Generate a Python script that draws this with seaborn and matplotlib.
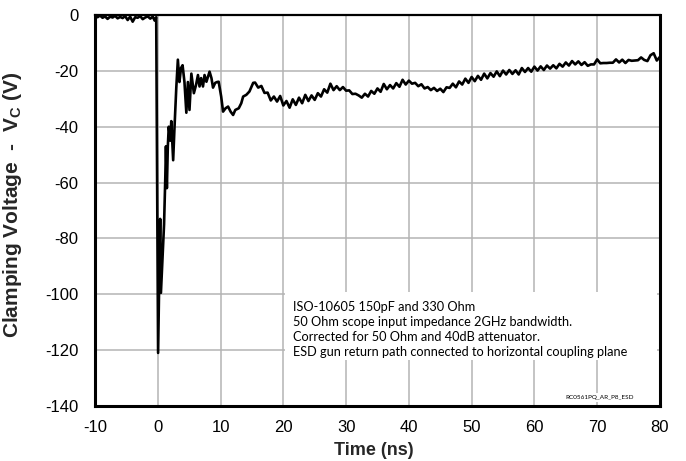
"""
ESD clamping voltage waveform (ISO-10605)
"""

import matplotlib
matplotlib.use("Agg")
import matplotlib.pyplot as plt
from matplotlib.patches import Rectangle
import seaborn as sns
import pandas as pd

# pre-trigger baseline
t_pre = [-10.0, -9.6, -9.2, -8.8, -8.4, -8.0, -7.6, -7.2, -6.8, -6.4, -6.0, -5.6, -5.2,
         -4.8, -4.4, -4.0, -3.6, -3.2, -2.8, -2.4, -2.0, -1.6, -1.2, -0.8, -0.5, -0.25]
v_pre = [-0.3, -0.8, -0.2, -1.0, -0.5, -1.4, -0.6, -0.9, -0.3, -1.2, -0.7, -1.1, -0.4,
         -1.8, -0.6, -2.4, -0.8, -1.0, -0.4, -1.5, -0.9, -0.5, -1.3, -0.6, -2.0, -0.8]

# discharge spike and ringing
t_ring = [0.05, 0.38, 0.5, 1.0, 1.2, 1.3, 1.45, 1.6, 1.75, 2.0, 2.15, 2.45, 2.65, 2.95,
          3.2, 3.45, 3.7, 3.95, 4.25, 4.55, 4.8, 5.05, 5.35, 5.75, 6.1, 6.4, 6.65, 6.9,
          7.2, 7.45, 7.75, 8.25, 8.55, 8.8, 9.15, 9.45, 9.7, 10.1, 10.4, 10.8, 11.2, 11.6,
          12.0, 12.35, 12.9, 13.3, 13.6, 14.1, 14.6, 15.2]
v_ring = [-121.0, -73.0, -99.5, -75.0, -58.0, -47.0, -62.0, -47.0, -40.0, -45.0, -38.0,
          -52.0, -41.0, -26.0, -16.0, -24.0, -19.0, -18.0, -24.0, -35.0, -24.0, -34.0,
          -21.0, -28.0, -25.0, -21.5, -25.6, -22.6, -25.6, -21.5, -23.9, -20.3, -22.6,
          -26.0, -24.3, -24.0, -23.9, -29.2, -34.6, -33.4, -32.8, -34.6, -35.8, -34.0,
          -33.4, -31.6, -29.2, -28.6, -27.4, -24.3]

# slow recovery tail
t_tail = [15.5, 16.0, 16.5, 17.0, 17.5, 18.0, 18.5, 19.0, 19.5, 20.0, 20.5, 21.0, 21.5,
          22.0, 22.5, 23.0, 23.5, 24.0, 24.5, 25.0, 25.5, 26.0, 26.5, 27.0, 27.5, 28.0,
          28.5, 29.0, 29.5, 30.0, 30.5, 31.0, 31.5, 32.0, 32.5, 33.0, 33.5, 34.0, 34.5,
          35.0, 35.5, 36.0, 36.5, 37.0, 37.5, 38.0, 38.5, 39.0, 39.5, 40.0, 40.5, 41.0,
          41.5, 42.0, 42.5, 43.0, 43.5, 44.0, 44.5, 45.0, 45.5, 46.0, 46.5, 47.0, 47.5,
          48.0, 48.5, 49.0, 49.5, 50.0, 50.5, 51.0, 51.5, 52.0, 52.5, 53.0, 53.5, 54.0,
          54.5, 55.0, 55.5, 56.0, 56.5, 57.0, 57.5, 58.0, 58.5, 59.0, 59.5, 60.0, 60.5,
          61.0, 61.5, 62.0, 62.5, 63.0, 63.5, 64.0, 64.5, 65.0, 65.5, 66.0, 66.5, 67.0,
          67.5, 68.0, 68.5, 69.0, 69.5, 70.0, 70.5, 71.0, 71.5, 72.0, 72.5, 73.0, 73.5,
          74.0, 74.5, 75.0, 75.5, 76.0, 76.5, 77.0, 77.5, 78.0, 78.5, 79.0, 79.5, 80.0]
v_tail = [-24.2, -26.0, -25.4, -27.9, -27.8, -30.6, -29.2, -31.0, -29.0, -32.4, -30.8,
          -33.2, -30.2, -32.2, -29.6, -31.6, -28.6, -30.8, -28.8, -30.4, -28.0, -29.2,
          -26.6, -27.8, -24.6, -26.9, -25.5, -26.9, -25.8, -27.1, -27.0, -28.3, -28.2,
          -28.8, -29.6, -28.2, -29.2, -27.2, -28.2, -26.3, -27.5, -24.7, -26.6, -25.1,
          -26.3, -24.4, -25.7, -23.2, -24.9, -23.5, -24.6, -24.3, -25.5, -24.8, -26.3,
          -25.8, -26.9, -26.1, -27.2, -26.4, -27.6, -25.9, -26.1, -24.6, -25.9, -23.8,
          -24.9, -22.8, -24.3, -22.2, -23.7, -21.8, -23.2, -21.0, -22.7, -20.8, -22.1,
          -20.2, -21.9, -19.9, -21.3, -19.7, -21.1, -19.8, -21.3, -19.0, -20.4, -19.0,
          -20.3, -18.5, -19.9, -18.4, -19.7, -18.1, -19.2, -18.0, -19.1, -17.5, -18.5,
          -17.0, -18.1, -16.5, -17.7, -16.6, -17.9, -16.9, -18.2, -17.7, -17.7, -15.9,
          -17.3, -17.2, -17.2, -17.1, -17.1, -15.9, -17.0, -16.0, -17.2, -16.1, -16.4,
          -16.3, -16.2, -15.2, -16.1, -16.5, -14.4, -13.7, -16.3, -15.0]

x_ticks = [-10, 0, 10, 20, 30, 40, 50, 60, 70, 80]
y_ticks = [0, -20, -40, -60, -80, -100, -120, -140]

note_lines = [
    "ISO-10605 150pF and 330 Ohm",
    "50 Ohm scope input impedance 2GHz bandwidth.",
    "Corrected for 50 Ohm and 40dB attenuator.",
    "ESD gun return path connected to horizontal coupling plane",
]
fig_id = "RC0561PQ_AR_P8_ESD"

sns.set_theme(style="whitegrid")
plt.rcParams['font.family'] = ['Liberation Sans', 'DejaVu Sans']
plt.rcParams['mathtext.fontset'] = 'custom'
plt.rcParams['mathtext.rm'] = 'Liberation Sans:bold'
plt.rcParams['mathtext.bf'] = 'Liberation Sans:bold'

df = pd.DataFrame({
    "t": t_pre + t_ring + t_tail,
    "v": v_pre + v_ring + v_tail,
})

fig = plt.figure(figsize=(6.86, 4.61), dpi=100)
ax = fig.add_axes([0.1385, 0.1193, 0.8235, 0.8482])

sns.lineplot(data=df, x="t", y="v", ax=ax, color="black", linewidth=1.9,
             sort=False, estimator=None, zorder=3)

ax.set_xlim(-10, 80)
ax.set_ylim(-140, 0)
ax.set_xticks(x_ticks)
ax.set_yticks(y_ticks)
ax.set_xticklabels([str(v) for v in x_ticks])
ax.set_yticklabels([str(v) for v in y_ticks])
ax.tick_params(axis='both', length=0, labelsize=12, colors='black')
ax.tick_params(axis='x', pad=10)
ax.tick_params(axis='y', pad=12)

ax.set_facecolor('white')
ax.set_axisbelow(True)
ax.grid(True, color='#b4b4b4', linewidth=1.1)
for side in ['left', 'bottom', 'right']:
    ax.spines[side].set_color('black')
    ax.spines[side].set_linewidth(2.2)
ax.spines['top'].set_color('black')
ax.spines['top'].set_linewidth(1.6)

ax.set_xlabel("Time (ns)", fontsize=13, fontweight='bold')
ax.xaxis.set_label_coords(0.493, -0.092)
ax.set_ylabel(r"Clamping Voltage  -  V$_\mathrm{C}$ (V)", fontsize=15,
              fontweight='bold')
ax.yaxis.set_label_coords(-0.126, 0.515)

# white note box in the lower right
ax.add_patch(Rectangle((0.337, 0.118), 0.657, 0.174, transform=ax.transAxes,
                       facecolor='white', edgecolor='none', zorder=1))
for i, line in enumerate(note_lines):
    ax.text(0.350, 0.254 - i * 0.0384, line, transform=ax.transAxes,
            fontsize=9.2, family=['Lato', 'DejaVu Sans'], va='center', ha='left',
            color='black', zorder=4)

ax.text(0.893, 0.022, fig_id, transform=ax.transAxes, fontsize=4.6,
        family=['Lato', 'DejaVu Sans'], ha='center', va='center', color='black',
        bbox=dict(facecolor='white', edgecolor='none', pad=1.2), zorder=4)

plt.savefig("out.png", dpi=100)
